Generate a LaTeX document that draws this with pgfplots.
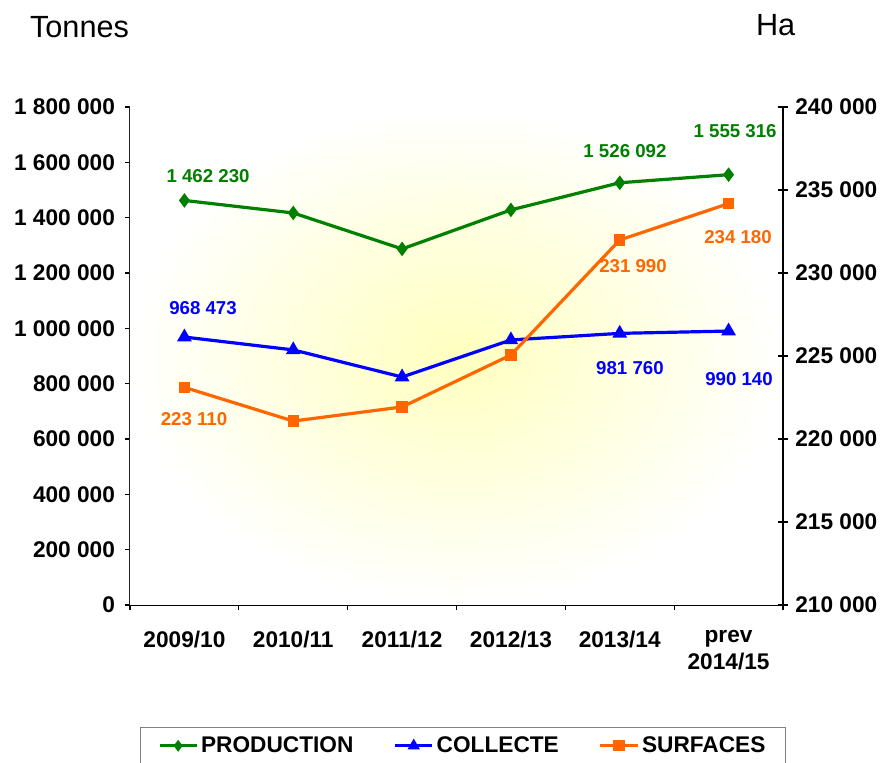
\documentclass[border=0pt]{standalone}
\usepackage{fontspec}
\setmainfont{Liberation Sans}
\usepackage{pgfplots}
\pgfplotsset{compat=1.18}
\definecolor{prodgreen}{RGB}{0,128,0}
\definecolor{colblue}{RGB}{0,0,255}
\definecolor{surforange}{RGB}{255,102,0}
\newcommand{\tickfont}{\fontsize{17}{20}\selectfont\bfseries}
\newcommand{\valfont}{\fontsize{14}{17}\selectfont\bfseries}

\pgfplotsset{
  common/.style={
    at={(0,0)}, anchor=south west,
    scale only axis, width=489.75pt, height=373.5pt,
    xmin=-0.5, xmax=5.5,
    axis line style={black, line width=0.8pt, -},
    tick style={black, line width=0.8pt},
    tick align=center, major tick length=7.5pt, minor tick length=7.5pt,
    scaled y ticks=false,
    /pgf/number format/assume math mode=true,
    /pgf/number format/.cd, fixed, precision=0, 1000 sep={\ },
  },
  ser/.style={line width=2.4pt, mark options={solid}},
}

\begin{document}
\begin{tikzpicture}[x=1pt,y=1pt]
\path[use as bounding box] (-97.5,-118.5) rectangle (567,453.75);

\begin{axis}[common,
  ymin=0, ymax=1800000,
  axis x line*=bottom, axis y line*=left,
  ytick={0,200000,...,1800000},
  yticklabel style={font=\tickfont, xshift=-4pt},
  xtick={0,...,5},
  xticklabels={2009/10,2010/11,2011/12,2012/13,2013/14,prev\\2014/15},
  xticklabel style={font=\tickfont, align=center, yshift=-12pt},
  major x tick style={draw=none},
  minor xtick={-0.5,0.5,...,5.5},
]
\shade[inner color=yellow!25, outer color=white]
  (rel axis cs:0,0) rectangle (rel axis cs:1,1);

\addplot[ser, prodgreen, mark=diamond*, mark size=3.5pt] coordinates {
 (0,1462230) (1,1417000) (2,1287000) (3,1428000) (4,1526092) (5,1555316)};
\addplot[ser, colblue, mark=triangle*, mark size=4pt] coordinates {
 (0,968473) (1,922000) (2,824000) (3,958000) (4,981760) (5,990140)};

\node[prodgreen, font=\valfont] at (axis cs:0.217,1550600) {1 462 230};
\node[prodgreen, font=\valfont] at (axis cs:4.048,1641000) {1 526 092};
\node[prodgreen, font=\valfont] at (axis cs:5.06,1713300) {1 555 316};
\node[colblue, font=\valfont] at (axis cs:0.171,1073500) {968 473};
\node[colblue, font=\valfont] at (axis cs:4.094,856600) {981 760};
\node[colblue, font=\valfont] at (axis cs:5.096,816900) {990 140};
\node[surforange, font=\valfont] at (axis cs:0.088,672300) {223 110};
\node[surforange, font=\valfont] at (axis cs:4.122,1225300) {231 990};
\node[surforange, font=\valfont] at (axis cs:5.087,1330100) {234 180};
\end{axis}

\begin{axis}[common,
  ymin=210000, ymax=240000,
  axis x line=none, axis y line*=right,
  ytick={210000,215000,...,240000},
  yticklabel style={font=\tickfont, xshift=2pt},
  legend columns=3,
  legend style={at={(0.51,-0.245)}, anchor=north, draw=gray, line width=0.8pt,
    font=\tickfont, inner xsep=13pt, inner ysep=5pt,
    /tikz/every even column/.append style={column sep=28pt}},
  legend image code/.code={
    \draw[#1, mark repeat=2, mark phase=2] plot coordinates {(0pt,0pt) (14pt,0pt) (28pt,0pt)};},
]
\addlegendimage{ser, prodgreen, mark=diamond*, mark size=2.5pt}
\addlegendentry{PRODUCTION}
\addlegendimage{ser, colblue, mark=triangle*, mark size=3pt}
\addlegendentry{COLLECTE}
\addplot[ser, surforange, mark=square*, mark size=3pt] coordinates {
 (0,223110) (1,221080) (2,221930) (3,225060) (4,231990) (5,234180)};
\addlegendentry{SURFACES}
\end{axis}

\node[anchor=west, font=\fontsize{23}{26}\selectfont] at (-78.5,433.5) {Tonnes};
\node[anchor=west, font=\fontsize{23}{26}\selectfont] at (466,435) {Ha};
\end{tikzpicture}
\end{document}
